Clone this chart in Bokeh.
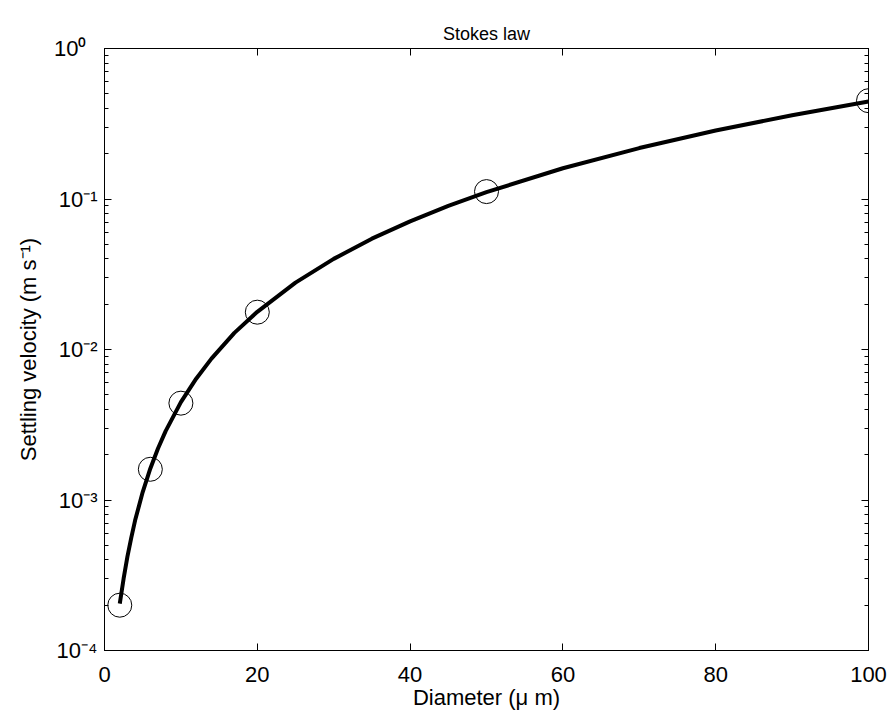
import math
from bokeh.plotting import figure
from bokeh.models import (LinearAxis, LogAxis, FixedTicker, Range1d,
                          CustomJSTickFormatter)
from bokeh.embed import file_html
from bokeh.resources import INLINE

# ---- data ----
diam_pts = [2, 6, 10, 20, 50, 100]
vel_pts = [2.0e-4, 1.6e-3, 4.4e-3, 1.77e-2, 0.112, 0.45]

curve_d = [2, 2.5, 3, 3.5, 4, 5, 6, 7, 8, 10, 12, 14, 17, 20, 25, 30, 35, 40,
           45, 50, 60, 70, 80, 90, 100]
curve_v = [2.05e-4, 3.0e-4, 4.2e-4, 5.6e-4, 7.3e-4, 1.13e-3, 1.62e-3, 2.2e-3,
           2.87e-3, 4.47e-3, 6.4e-3, 8.7e-3, 1.29e-2, 1.78e-2, 2.78e-2, 4.0e-2,
           5.45e-2, 7.1e-2, 9.0e-2, 0.111, 0.16, 0.218, 0.285, 0.36, 0.445]

x_ticks = [0, 20, 40, 60, 80, 100]
y_exps = [-4, -3, -2, -1, 0]
y_ticks = [10.0 ** e for e in y_exps]
y_minor = [k * 10.0 ** e for e in y_exps[:-1] for k in range(2, 10)]
SUP = str.maketrans("-0123456789", "\u207b\u2070\u00b9\u00b2\u00b3\u2074\u2075\u2076\u2077\u2078\u2079")
y_labels = {t: "10" + str(e).translate(SUP) + ("\u2002" if e >= 0 else "")
            for e, t in zip(y_exps, y_ticks)}

title_text = "Stokes law"
xlabel_text = "Diameter (\u03bc m)"
ylabel_text = "Settling velocity (m s\u207b\u00b9)"

FONT = "Liberation Sans"

p = figure(width=891, height=717,
           x_range=Range1d(0, 100), y_range=Range1d(1e-4, 1),
           y_axis_type="log", output_backend="svg", toolbar_location=None,
           min_border_left=104, min_border_right=23,
           min_border_top=48, min_border_bottom=67,
           title=title_text)
p.xgrid.visible = False
p.ygrid.visible = False
p.outline_line_color = "black"
p.outline_line_width = 1
p.background_fill_color = "white"
p.border_fill_color = "white"

p.title.align = "center"
p.title.text_font = FONT
p.title.text_font_size = "18px"
p.title.text_font_style = "normal"
p.title.text_color = "black"
p.title.standoff = 10

xt = FixedTicker(ticks=x_ticks, minor_ticks=[])
yt = FixedTicker(ticks=y_ticks, minor_ticks=y_minor)

def style(ax, show_labels):
    ax.axis_line_color = "black"
    ax.major_tick_line_color = "black"
    ax.minor_tick_line_color = "black"
    ax.major_tick_in = 7
    ax.major_tick_out = 0
    ax.minor_tick_in = 4
    ax.minor_tick_out = 0
    ax.major_label_text_font = FONT
    ax.major_label_text_font_size = "22px"
    ax.major_label_text_color = "black"
    ax.axis_label_text_font = FONT
    ax.axis_label_text_font_size = "22px"
    ax.axis_label_text_font_style = "normal"
    ax.axis_label_text_color = "black"
    if not show_labels:
        ax.formatter = CustomJSTickFormatter(code="return ''")
        ax.major_label_standoff = 0

xa = p.xaxis[0]
xa.ticker = xt
style(xa, True)
xa.major_label_standoff = 16
xa.axis_label = xlabel_text
xa.axis_label_standoff = 0

ya = p.yaxis[0]
ya.ticker = yt
style(ya, True)
ya.major_label_overrides = y_labels
ya.major_label_standoff = 7
ya.axis_label = ylabel_text
ya.axis_label_standoff = 10

top = LinearAxis(ticker=xt)
style(top, False)
p.add_layout(top, "above")
right = LogAxis(ticker=yt)
style(right, False)
p.add_layout(right, "right")

# curve and markers
p.line(curve_d, curve_v, line_color="black", line_width=4)
p.scatter(diam_pts, vel_pts, marker="circle", size=24, fill_color=None,
          line_color="black", line_width=1)

open("out.html", "w").write(file_html(p, INLINE))
